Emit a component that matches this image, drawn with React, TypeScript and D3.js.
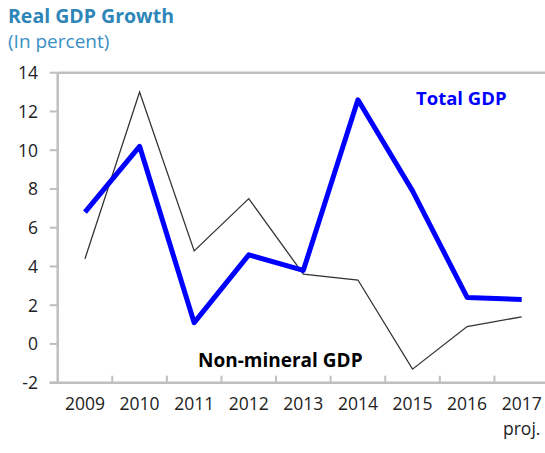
import React from "react";
import * as d3 from "d3";

const years = ["2009", "2010", "2011", "2012", "2013", "2014", "2015", "2016", "2017"];
const totalGDP = [6.8, 10.2, 1.1, 4.6, 3.8, 12.6, 7.9, 2.4, 2.3];
const nonMineralGDP = [4.4, 13.0, 4.8, 7.5, 3.6, 3.3, -1.3, 0.9, 1.4];
const yTicks = [-2, 0, 2, 4, 6, 8, 10, 12, 14];

const W = 545;
const H = 453;
const FONT = "'Open Sans', sans-serif";

export default function App() {
  const x = d3.scaleBand<string>().domain(years).range([57.7, 549]).padding(0);
  const y = d3.scaleLinear().domain([-2, 14]).range([382.7, 72.7]);
  const cx = (d: string) => (x(d) as number) + x.bandwidth() / 2;
  const line = d3
    .line<number>()
    .x((_, i) => cx(years[i]))
    .y((v) => y(v));
  const axisColor = "#BFBFBF";
  const left = 57.7;
  const bottom = y(-2);
  const top = y(14);

  return (
    <svg width={W} height={H} style={{ position: "absolute", left: 0, top: 0, background: "#fff" }}>
      <text x={8} y={23} fontFamily={FONT} fontWeight={700} fontSize={19.5} fill="#2E86B8">
        Real GDP Growth
      </text>
      <text x={8} y={48} fontFamily={FONT} fontSize={19} fill="#3A8FC4">
        (In percent)
      </text>

      {/* top border */}
      <line x1={left} x2={W} y1={top} y2={top} stroke={axisColor} strokeWidth={2.5} />
      {/* left axis */}
      <line x1={left} x2={left} y1={top} y2={bottom} stroke={axisColor} strokeWidth={2.5} />
      {yTicks.map((t) => (
        <g key={t}>
          <line x1={left - 8} x2={left} y1={y(t)} y2={y(t)} stroke={axisColor} strokeWidth={2} />
          <text x={38} y={y(t)} dy="0.36em" textAnchor="end" fontFamily={FONT} fontSize={17.5} fill="#222">
            {t}
          </text>
        </g>
      ))}
      {/* bottom axis */}
      <line x1={left - 8} x2={W} y1={bottom} y2={bottom} stroke={axisColor} strokeWidth={2.5} />
      {years.map((yr) => (
        <line
          key={yr}
          x1={(x(yr) as number) + x.bandwidth()}
          x2={(x(yr) as number) + x.bandwidth()}
          y1={bottom}
          y2={bottom - 7}
          stroke={axisColor}
          strokeWidth={2}
        />
      ))}
      {years.map((yr) => (
        <text key={yr} x={cx(yr)} y={410} textAnchor="middle" fontFamily={FONT} fontSize={17.5} fill="#222">
          {yr}
        </text>
      ))}
      <text x={cx("2017")} y={435} textAnchor="middle" fontFamily={FONT} fontSize={17.5} fill="#222">
        proj.
      </text>

      <path d={line(nonMineralGDP) || ""} fill="none" stroke="#333" strokeWidth={1.3} strokeLinejoin="miter" />
      <path d={line(totalGDP) || ""} fill="none" stroke="#0000FF" strokeWidth={5} strokeLinejoin="round" />

      <text x={416} y={105} fontFamily={FONT} fontWeight={700} fontSize={18.5} fill="#0000FF">
        Total GDP
      </text>
      <text x={198} y={367} fontFamily={FONT} fontWeight={700} fontSize={19} fill="#000">
        Non-mineral GDP
      </text>
    </svg>
  );
}
